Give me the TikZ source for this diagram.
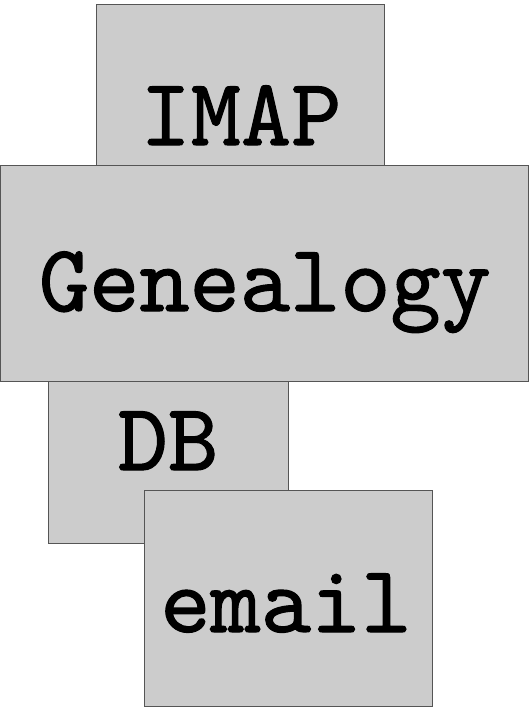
\documentclass[tikz,border=0pt]{standalone}
\usepackage{fontspec}
\newfontfamily\blockfont[FakeBold=1.2]{lmmono10-regular.otf}
\definecolor{boxgray}{HTML}{CCCCCC}
\definecolor{edgegray}{HTML}{555555}
\begin{document}
\begin{tikzpicture}[x=1bp,y=-1bp,
  box/.style={fill=boxgray, draw=edgegray, line width=0.9bp},
  label/.style={anchor=base, inner sep=0pt, font=\fontsize{96}{96}\selectfont\blockfont}]
  \useasboundingbox (0,0) rectangle (531,707);
  % stacked blocks, later ones drawn on top
  \draw[box] (96,4) rectangle (384,165);
  \node[label] (imap) at (241,145) {IMAP};
  \draw[box] (0.5,165) rectangle (528,381);
  \node[label] (genealogy) at (265,311) {Genealogy};
  \draw[box] (48,381) rectangle (288,543);
  \node[label] (db) at (168,470) {DB};
  \draw[box] (144,490) rectangle (432,706);
  \node[label] (email) at (286,632) {email};
\end{tikzpicture}
\end{document}
